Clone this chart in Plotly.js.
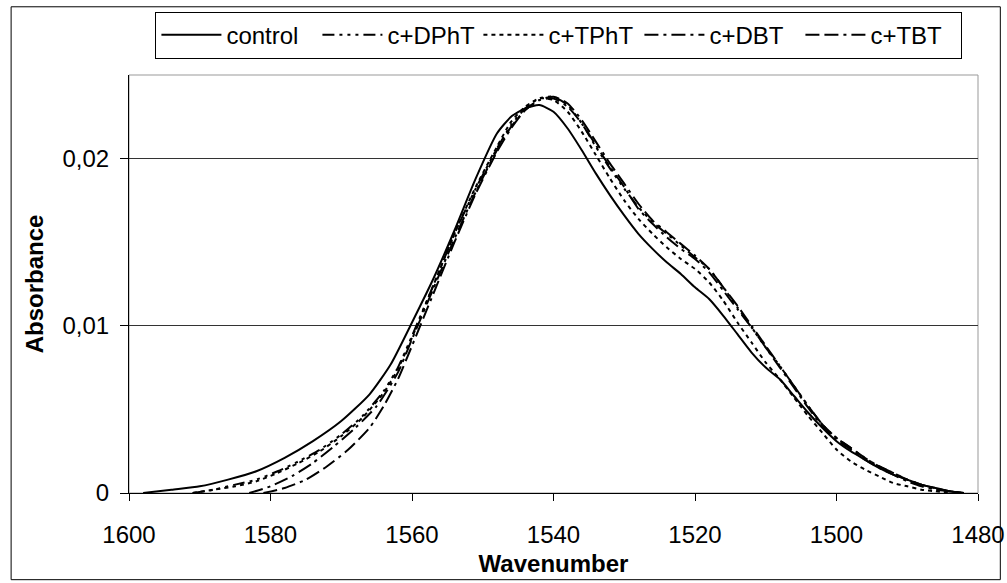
<!DOCTYPE html>
<html>
<head>
<meta charset="utf-8">
<script src="https://cdn.plot.ly/plotly-3.0.1.min.js"></script>
<style>
  html, body { margin: 0; padding: 0; background: #fff; }
  #chart { width: 1007px; height: 583px; }
</style>
</head>
<body>
<div id="chart"></div>
<script>
// ---- data ----
const seriesNames = ["control", "c+DPhT", "c+TPhT", "c+DBT", "c+TBT"];

const controlWn = [1598,1594,1590,1586,1582,1578,1574,1570,1566,1563,1560,1557,1554,1551,1548,1546,1544,1542,1540,1538,1536,1534,1532,1530,1528,1526,1524,1522,1520,1518,1516,1514,1512,1510,1508,1506,1504,1502,1500,1498,1496,1494,1492,1490,1488,1486,1484,1482];
const controlAbs = [0,0.0002,0.0004,0.0008,0.0013,0.0021,0.0031,0.0043,0.0059,0.0077,0.0102,0.0128,0.0157,0.0188,0.0215,0.0225,0.0230,0.0232,0.0228,0.0218,0.0205,0.0191,0.0178,0.0166,0.0155,0.0146,0.0138,0.0131,0.0123,0.0116,0.0106,0.0095,0.0084,0.0075,0.0068,0.0058,0.0048,0.0039,0.0031,0.0025,0.0020,0.0015,0.0011,0.0008,0.0005,0.0003,0.0001,0];

const dphtWn = [1591,1588,1585,1582,1579,1576,1573,1570,1567,1564,1562,1560,1557,1554,1551,1548,1546,1544,1542,1540,1538,1536,1534,1532,1530,1528,1526,1524,1522,1520,1518,1516,1514,1512,1510,1508,1506,1504,1502,1500,1498,1496,1494,1492,1490,1488,1486,1484,1482];
const dphtAbs = [0,0.0002,0.0005,0.0008,0.0013,0.0019,0.0026,0.0035,0.0046,0.0061,0.0075,0.0094,0.0124,0.0155,0.0182,0.0206,0.0220,0.0230,0.0236,0.0237,0.0232,0.0221,0.0207,0.0194,0.0182,0.0171,0.0162,0.0155,0.0148,0.0141,0.0134,0.0123,0.0111,0.0099,0.0087,0.0076,0.0064,0.0052,0.0041,0.0033,0.0027,0.0021,0.0016,0.0012,0.0008,0.0005,0.0002,0.0001,0];

const tphtWn = [1591,1588,1585,1582,1579,1576,1573,1570,1567,1564,1562,1560,1557,1554,1551,1548,1546,1544,1542,1540,1538,1536,1534,1532,1530,1528,1526,1524,1522,1520,1518,1516,1514,1512,1510,1508,1506,1504,1502,1500,1498,1496,1494,1492,1490,1488,1486,1484];
const tphtAbs = [0,0.0002,0.0004,0.0007,0.0012,0.0018,0.0025,0.0034,0.0045,0.0060,0.0074,0.0093,0.0124,0.0155,0.0183,0.0207,0.0222,0.0231,0.0236,0.0235,0.0228,0.0216,0.0202,0.0188,0.0175,0.0164,0.0155,0.0147,0.0140,0.0134,0.0126,0.0115,0.0102,0.0090,0.0078,0.0068,0.0057,0.0046,0.0036,0.0026,0.0019,0.0014,0.0010,0.0006,0.0004,0.0002,0.0001,0];

const dbtWn = [1583,1580,1577,1574,1571,1568,1565,1562,1560,1557,1554,1551,1548,1546,1544,1542,1540,1538,1536,1534,1532,1530,1528,1526,1524,1522,1520,1518,1516,1514,1512,1510,1508,1506,1504,1502,1500,1498,1496,1494,1492,1490,1488,1486,1484,1482];
const dbtAbs = [0,0.0004,0.0010,0.0018,0.0028,0.0039,0.0052,0.0072,0.0092,0.0122,0.0152,0.0180,0.0205,0.0219,0.0229,0.0235,0.0236,0.0231,0.0221,0.0208,0.0195,0.0183,0.0170,0.0161,0.0153,0.0146,0.0140,0.0132,0.0121,0.0110,0.0099,0.0087,0.0075,0.0063,0.0051,0.0040,0.0032,0.0026,0.0020,0.0015,0.0011,0.0007,0.0004,0.0002,0.0001,0];

const tbtWn = [1581,1578,1575,1572,1569,1566,1564,1562,1560,1557,1554,1551,1548,1546,1544,1542,1540,1538,1536,1534,1532,1530,1528,1526,1524,1522,1520,1518,1516,1514,1512,1510,1508,1506,1504,1502,1500,1498,1496,1494,1492,1490,1488,1486,1484,1482];
const tbtAbs = [0,0.0003,0.0008,0.0016,0.0026,0.0039,0.0052,0.0068,0.0088,0.0119,0.0150,0.0179,0.0204,0.0218,0.0229,0.0235,0.0237,0.0233,0.0223,0.0210,0.0197,0.0185,0.0173,0.0163,0.0156,0.0149,0.0142,0.0134,0.0123,0.0112,0.0100,0.0088,0.0076,0.0064,0.0052,0.0041,0.0033,0.0027,0.0021,0.0016,0.0012,0.0008,0.0005,0.0003,0.0001,0];

const xTickVals = [1600,1580,1560,1540,1520,1500,1480];
const yTickVals = [0,0.01,0.02];
const yTickText = ["0", "0,01", "0,02"];

// ---- styles ----
const dashes = ["solid", "12px,5px,3px,5px,3px,5px,3px,5px", "4px,4px", "14px,5px,3px,5px", "14px,5px,14px,5px,3px,5px"];
const xs = [controlWn, dphtWn, tphtWn, dbtWn, tbtWn];
const ys = [controlAbs, dphtAbs, tphtAbs, dbtAbs, tbtAbs];

const traces = seriesNames.map((n, i) => ({
  type: "scatter", mode: "lines", name: n,
  x: xs[i], y: ys[i],
  line: { color: "#000", width: 2, dash: dashes[i], shape: "spline", smoothing: 0.6 }
}));

const L = 129.3, R = 977.7, T = 71.7, B = 492.7;
const W = 1007, H = 583;
const px = v => (v - L) / (R - L);
const py = v => (B - v) / (B - T);

const font = "Liberation Sans, Arial, sans-serif";
const FS = 24;

const layout = {
  width: W, height: H,
  margin: { l: L, r: W - R, t: T, b: H - B, pad: 0 },
  paper_bgcolor: "#fff", plot_bgcolor: "#fff",
  separators: ", ",
  font: { family: font, size: FS, color: "#000" },
  showlegend: true,
  legend: {
    orientation: "h", x: px(155.7), y: py(8), xanchor: "left", yanchor: "top",
    bordercolor: "#000", borderwidth: 1, bgcolor: "#fff",
    font: { family: font, size: FS, color: "#000" },
    entrywidth: 86, entrywidthmode: "pixels", itemwidth: 60,
    tracegroupgap: 0
  },
  xaxis: {
    range: [1600, 1480], tickvals: xTickVals, ticktext: xTickVals.map(String),
    showgrid: false, zeroline: false,
    showline: true, linecolor: "#000", linewidth: 1,
    ticks: "outside", ticklen: 7, tickcolor: "#000", tickwidth: 1,
    tickfont: { family: font, size: FS, color: "#000" },
    ticklabelstandoff: 13,
    title: { text: "<b>Wavenumber</b>", font: { family: font, size: FS, color: "#000" }, standoff: 8 },
    automargin: false, fixedrange: true
  },
  yaxis: {
    range: [0, 0.025], tickvals: yTickVals, ticktext: yTickText,
    showgrid: true, gridcolor: "#333", gridwidth: 1, zeroline: false,
    showline: true, linecolor: "#000", linewidth: 1,
    ticks: "outside", ticklen: 8, tickcolor: "#000", tickwidth: 1,
    tickfont: { family: font, size: FS, color: "#000" },
    ticklabelstandoff: 6,
    title: { text: "<b>Absorbance</b>", font: { family: font, size: FS, color: "#000" }, standoff: 12 },
    automargin: false, fixedrange: true
  },
  shapes: [
    { type: "rect", xref: "paper", yref: "paper", x0: 0, x1: 1, y0: 0, y1: 1,
      line: { color: "#999", width: 1 }, layer: "below" },
    { type: "rect", xref: "paper", yref: "paper", x0: px(11.5), x1: px(1000), y0: py(580), y1: py(3),
      line: { color: "#000", width: 1 }, layer: "below" }
  ]
};

Plotly.newPlot("chart", traces, layout, { staticPlot: true, displayModeBar: false });
</script>
</body>
</html>
